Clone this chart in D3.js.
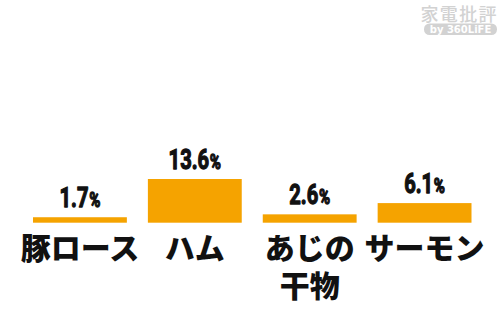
<!DOCTYPE html>
<html>
<head>
<meta charset="utf-8">
<script src="https://cdn.jsdelivr.net/npm/d3@7/dist/d3.min.js"></script>
<style>
  html, body { margin: 0; padding: 0; background: #fff; }
  svg { display: block; }
</style>
</head>
<body>
<svg id="chart" width="500" height="312"></svg>
<script>
const categories = [["豚ロース"], ["ハム"], ["あじの", "干物"], ["サーモン"]];
const values = [1.7, 13.6, 2.6, 6.1];

const width = 500, height = 312;
const baseline = 222.7;
const orange = "#F5A300";

const svg = d3.select("#chart");

const x = d3.scaleBand()
    .domain(d3.range(values.length))
    .range([33, 471.5])
    .paddingInner(0.183)
    .paddingOuter(0);

const y = d3.scaleLinear()
    .domain([0, 13.6])
    .range([baseline, 179]);

// bars
svg.append("g").selectAll("rect")
    .data(values)
    .join("rect")
    .attr("x", (d, i) => x(i))
    .attr("y", d => y(d))
    .attr("width", x.bandwidth())
    .attr("height", d => baseline - y(d))
    .attr("fill", orange);

// value labels (condensed heavy)
const vl = svg.append("g").selectAll("text")
    .data(values)
    .join("text")
    .attr("transform", (d, i) => "translate(" + (x(i) + x.bandwidth() / 2) + "," + (y(d) - 10) + ") scale(0.72,1)")
    .attr("text-anchor", "middle")
    .attr("font-family", "Roboto")
    .attr("font-weight", 700)
    .attr("font-size", 28)
    .attr("fill", "#111")
    .attr("stroke", "#111")
    .attr("stroke-width", 1.3)
    .attr("stroke-linejoin", "round");
vl.append("tspan").text(d => d.toFixed(1));
vl.append("tspan").attr("font-size", 21).attr("dx", 1).text("%");

// category labels
const cl = svg.append("g").selectAll("text")
    .data(categories)
    .join("text")
    .attr("x", (d, i) => x(i) + x.bandwidth() / 2)
    .attr("y", 259)
    .attr("text-anchor", "middle")
    .attr("font-family", "'Noto Sans CJK JP'")
    .attr("font-weight", 900)
    .attr("font-size", 30)
    .attr("fill", "#111");
cl.selectAll("tspan")
    .data(d => d)
    .join("tspan")
    .attr("x", function () { return this.parentNode.getAttribute("x"); })
    .attr("dy", (d, i) => i === 0 ? 0 : 38)
    .text(d => d);

// watermark
const wm = svg.append("g").attr("fill", "#d2d2d2");
wm.append("text")
    .attr("x", 458.5).attr("y", 20.5)
    .attr("text-anchor", "middle")
    .attr("font-family", "'Noto Sans CJK JP'")
    .attr("font-weight", 500)
    .attr("font-size", 18)
    .attr("textLength", 76)
    .text("家電批評");
wm.append("rect")
    .attr("x", 424).attr("y", 23.5)
    .attr("width", 73).attr("height", 11.5)
    .attr("rx", 5.5);
wm.append("text")
    .attr("x", 460.5).attr("y", 33.3)
    .attr("text-anchor", "middle")
    .attr("font-family", "'DejaVu Sans'")
    .attr("font-weight", 700)
    .attr("font-size", 10)
    .attr("fill", "#fff")
    .text("by 360LiFE");
</script>
</body>
</html>
